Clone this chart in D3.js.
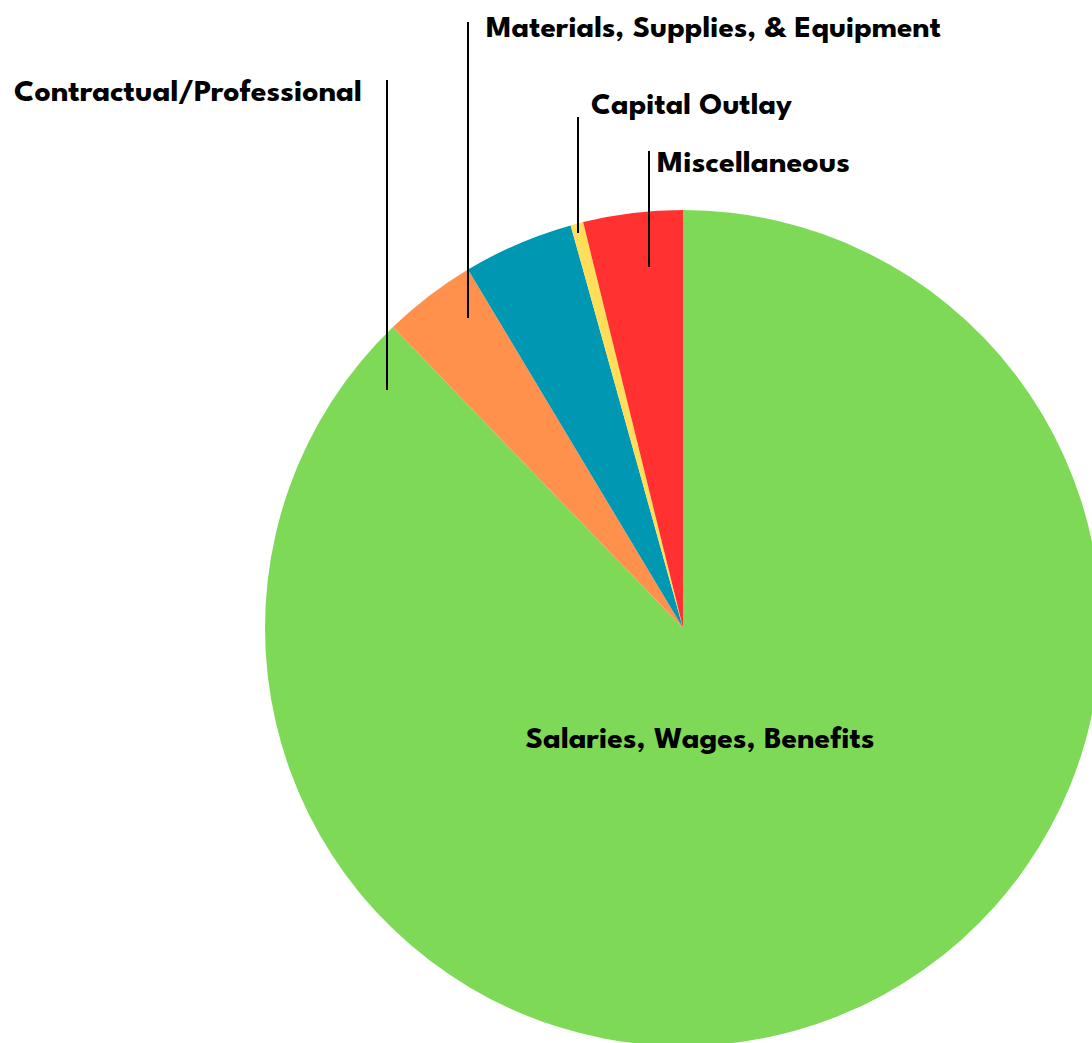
<!DOCTYPE html>
<html>
<head>
<meta charset="utf-8">
<script src="https://cdn.jsdelivr.net/npm/d3@7"></script>
<style>
  html, body { margin: 0; padding: 0; background: #fff; overflow: hidden; }
  svg { display: block; }
  .lbl { font-family: "League Spartan", Lato, "Open Sans", sans-serif; font-weight: 700; fill: #000; }
</style>
</head>
<body>
<svg id="chart" width="1092" height="1043"></svg>
<script>
// Budget share by expenditure category (percent of total)
const categories = [
  "Salaries, Wages, Benefits",
  "Contractual/Professional",
  "Materials, Supplies, & Equipment",
  "Capital Outlay",
  "Miscellaneous"
];
const shares = [87.79, 3.61, 4.27, 0.49, 3.84];
const colors = ["#7ED957", "#FF914D", "#0097B2", "#FFDE59", "#FF3131"];

// Label placement: text anchor point, fitted width, and vertical leader line
const labelLayout = [
  { x: 700, y: 748, w: 349, anchor: "middle", line: null },
  { x: 14,  y: 101, w: 348, anchor: "start", line: { x: 387, y1: 80,  y2: 390 } },
  { x: 486, y: 37,  w: 455, anchor: "start", line: { x: 468, y1: 22,  y2: 318 } },
  { x: 591, y: 114, w: 201, anchor: "start", line: { x: 578, y1: 117, y2: 233 } },
  { x: 657, y: 172, w: 193, anchor: "start", line: { x: 649, y1: 151, y2: 267 } }
];

const svg = d3.select("#chart");
const cx = 683, cy = 628, radius = 418;

const pie = d3.pie().sort(null).value(d => d);
const arc = d3.arc().innerRadius(0).outerRadius(radius);
const color = d3.scaleOrdinal().domain(categories).range(colors);

const g = svg.append("g").attr("transform", `translate(${cx},${cy})`);

g.selectAll("path.slice")
  .data(pie(shares))
  .join("path")
  .attr("class", "slice")
  .attr("d", arc)
  .attr("fill", (d, i) => color(categories[i]));

// Leader lines
svg.selectAll("line.leader")
  .data(labelLayout.filter(d => d.line))
  .join("line")
  .attr("class", "leader")
  .attr("x1", d => d.line.x).attr("x2", d => d.line.x)
  .attr("y1", d => d.line.y1).attr("y2", d => d.line.y2)
  .attr("stroke", "#000")
  .attr("stroke-width", 2);

// Category labels
svg.selectAll("text.lbl")
  .data(categories)
  .join("text")
  .attr("class", "lbl")
  .attr("x", (d, i) => labelLayout[i].x)
  .attr("y", (d, i) => labelLayout[i].y)
  .attr("text-anchor", (d, i) => labelLayout[i].anchor)
  .attr("font-size", 31)
  .attr("textLength", (d, i) => labelLayout[i].w)
  .attr("lengthAdjust", "spacingAndGlyphs")
  .text(d => d);
</script>
</body>
</html>
